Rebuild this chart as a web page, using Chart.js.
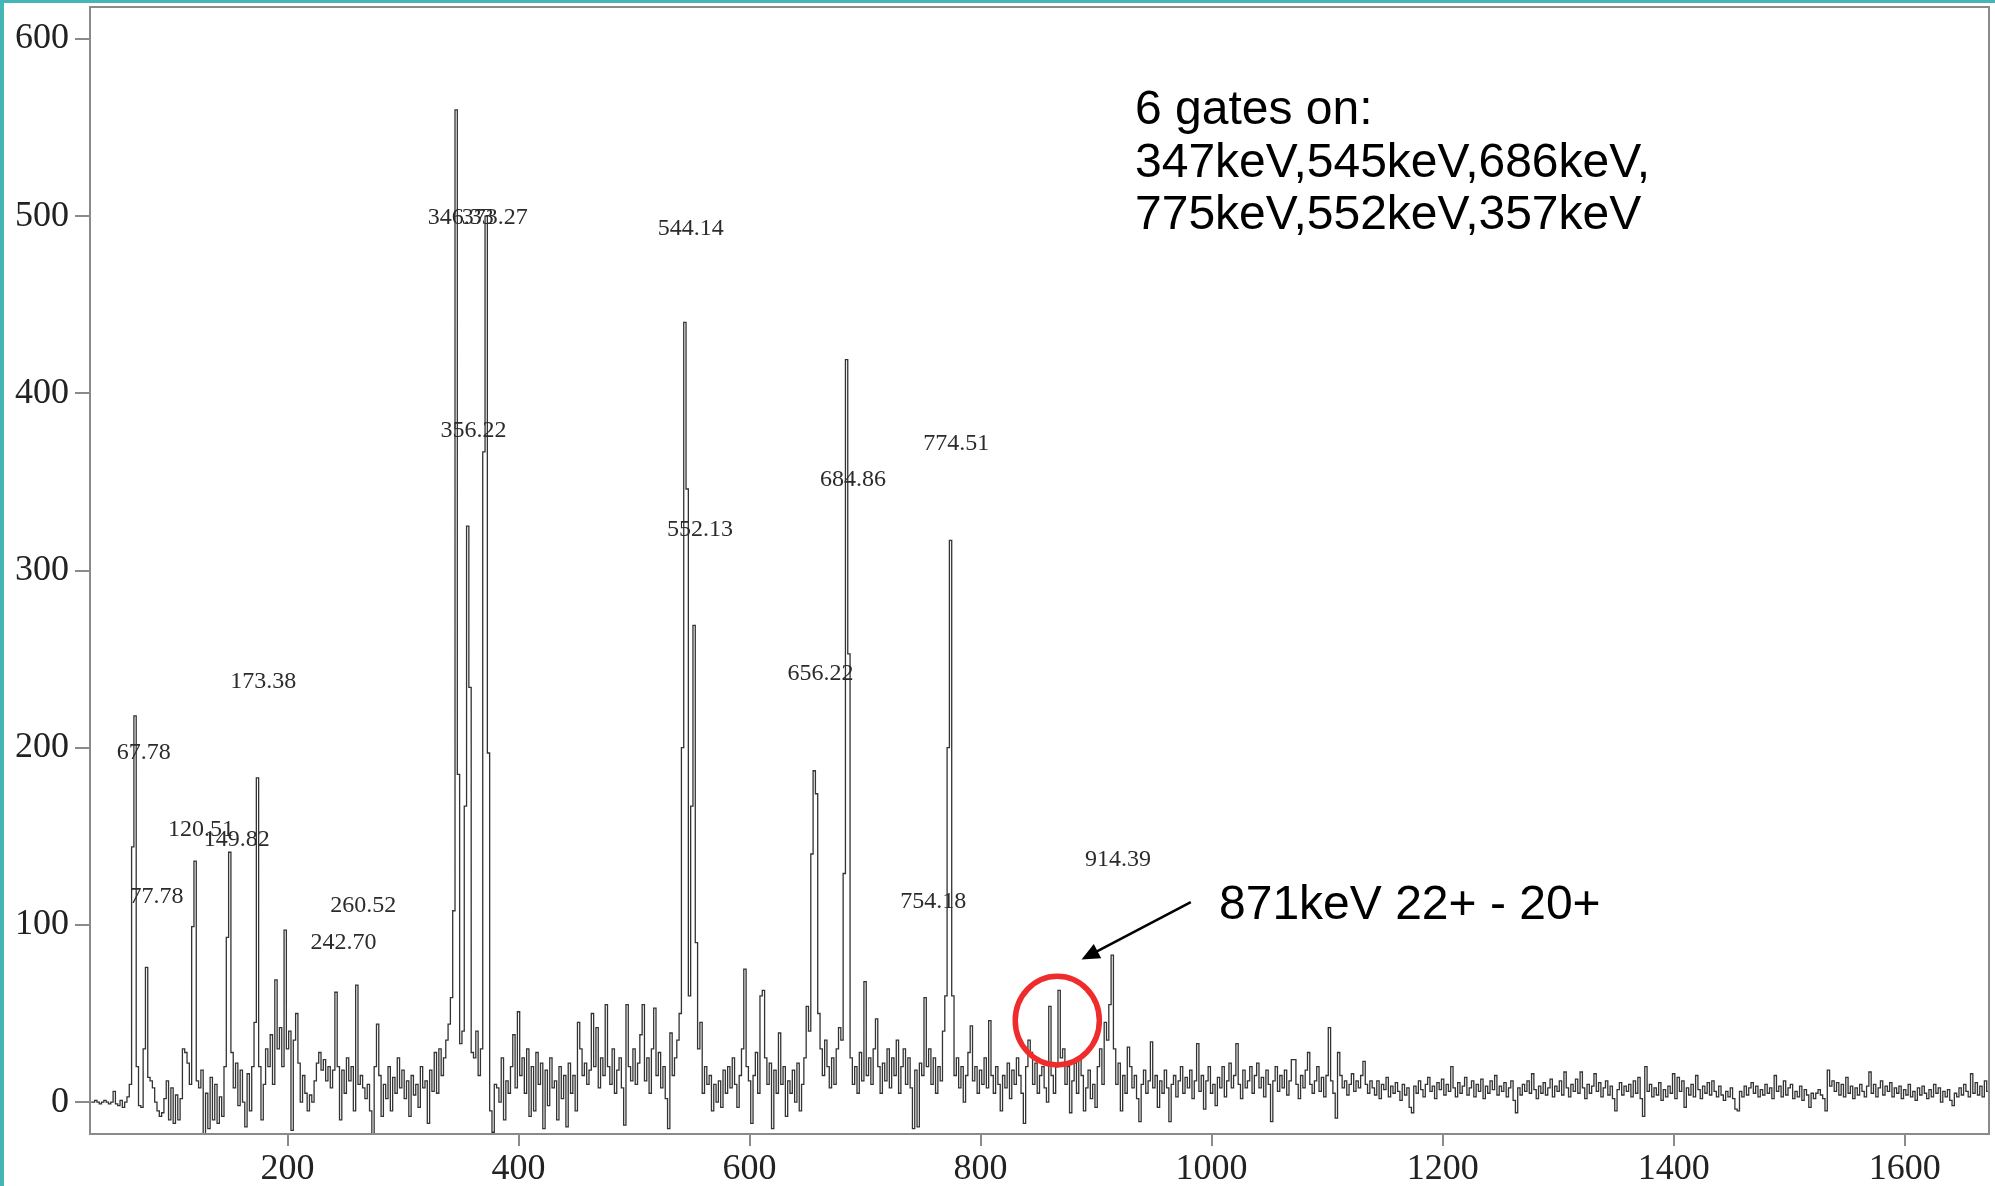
<!DOCTYPE html>
<html>
<head>
<meta charset="utf-8">
<script src="https://cdn.jsdelivr.net/npm/chart.js@4/dist/chart.umd.min.js"></script>
<style>
  body { margin: 0; background: #fff; }
  #wrap { position: relative; width: 1995px; height: 1186px; }
  .teal { position: absolute; background: #44b6b6; }
  #tealLeft { left: 0; top: 0; width: 4px; height: 1186px; }
  #tealTop { left: 0; top: 0; width: 1995px; height: 3px; }
</style>
</head>
<body>
<div id="wrap">
  <canvas id="spectrum"></canvas>
  <div class="teal" id="tealLeft"></div>
  <div class="teal" id="tealTop"></div>
</div>
<script>
// energy calibration: channel i -> energyStart + i * energyStep (keV)
const energyStart = 30;
const energyStep = 2;

// counts, rows of 10 channels (20 keV per row)
const countsLow = [ // 30 - 348 keV
  0, 0, 1, 0, -1, 0, 1, 0, -1, 0,
  6, -1, -2, 1, -3, 0, 3, 10, 144, 218,
  20, -2, -3, 30, 76, 14, 12, 8, 0, -5,
  -8, -6, 2, 12, -10, 8, -12, 4, -10, 2,
  30, 28, 22, 10, 99, 136, 12, 8, 18, -18,
  5, -15, 14, -10, 10, -12, 3, -8, 20, 93,
  141, 28, 8, 22, -2, 18, 0, -14, 16, -5,
  20, 45, 183, 20, -10, 10, 30, 20, 38, 10,
  69, 30, 42, 20, 97, 30, 40, -16, 35, 50,
  22, 0, 15, 5, -5, 4, 0, 12, 22, 28,
  18, 24, 12, 20, 8, 18, 62, 20, -10, 18,
  5, 25, 12, 20, -5, 66, 10, 15, 8, 2,
  10, -5, -18, 20, 44, 15, -8, 10, 2, 20,
  -5, 14, 5, 25, 8, 18, 2, 12, -8, 15,
  4, 10, -3, 20, 8, 12, -12, 18, 6, 28,
  5, 30, 15, 25, 35, 44, 59, 108, 560, 185
];
const countsMid = [ // 350 - 788 keV
  33, 40, 167, 325, 234, 28, 25, 40, 15, 30,
  367, 500, 197, -5, -17, 10, 8, 0, 25, -10,
  12, 5, 20, 38, 8, 51, 15, 25, 5, 30,
  -8, 20, -5, 28, 10, 22, -15, 18, -2, 25,
  8, 12, -10, 20, 2, 15, -14, 22, 5, 15,
  -5, 45, 30, 15, 22, 10, 18, 50, 20, 42,
  8, 25, 15, 55, 20, 10, 30, 5, 18, 25,
  8, -13, 55, 20, 12, 30, 10, 22, 38, 55,
  12, 25, 5, 30, 53, 15, 28, 8, 20, 2,
  -15, 39, 15, 25, 35, 50, 200, 440, 346, 60,
  167, 269, 90, 30, 45, 5, 20, 10, 15, -5,
  10, 0, 12, -3, 18, 5, 20, 8, 25, 10,
  -3, 15, 30, 75, 20, 12, -12, 15, 28, 5,
  60, 63, 25, 10, 22, -15, 18, 5, 39, 10,
  20, -8, 12, 5, 18, 0, 22, -5, 10, 25,
  54, 40, 140, 187, 174, 50, 30, 15, 35, 20,
  8, 25, 10, 30, 42, 35, 129, 419, 253, 25,
  10, 20, 5, 28, 12, 68, 15, 25, 10, 30,
  47, 20, 5, 22, 12, 30, 8, 25, 15, 35,
  5, 20, 30, 10, 25, 8, -15, 18, -14, 22,
  15, 59, 20, 30, 10, 25, 5, 20, 12, 40,
  60, 200, 317, 60, 15, 25, 8, 20, 0, 15
];
const countsHigh = [ // 790 - 1148 keV
  28, 43, 12, 20, 5, 18, 10, 25, 8, 46,
  15, 5, 20, 10, -5, 15, 8, 22, 2, 18,
  10, 25, 15, 5, -12, 20, 35, 28, 10, 22,
  5, 15, 20, 8, 0, 54, 15, 5, 20, 63,
  25, 30, 10, 20, -6, 12, 22, 5, 25, 15,
  -5, 8, 18, 2, 10, -3, 20, 30, 10, 45,
  35, 55, 83, 30, 10, 22, -5, 15, 5, 31,
  20, 8, 15, 2, -11, 10, 18, 5, 12, 34,
  8, 15, -3, 12, 5, 18, 8, -11, 10, 15,
  3, 12, 20, 5, 14, 8, 18, 2, 12, 33,
  6, 15, -4, 12, 20, 5, 10, -2, 14, 8,
  20, 3, 12, 22, 8, 15, 33, 10, 2, 18,
  8, 12, 20, 5, 15, 22, 8, 14, 3, 18,
  10, -11, 12, 20, 6, 15, 8, 18, 4, 12,
  24, 24, 10, 2, 15, 8, 18, 28, 10, 5,
  12, 20, 6, 14, 3, 15, 42, 12, 5, -9,
  28, 15, 8, 12, 4, 10, 16, 6, 12, 8,
  15, 23, 10, 5, 12, 8, 4, 12, 2, 10
];
const countsTail = [ // 1150 - 1672 keV
  7, 14, 3, 9, 5, 11, 6, 1, 10, 4,
  8, -3, -6, 9, 5, 12, 7, 3, 10, 14,
  6, 9, 2, 11, 7, 13, 4, 10, 6, 20,
  8, 3, 11, 5, 9, 14, 4, 8, 12, 3,
  10, 6, 13, 2, 9, 5, 12, 7, 15, 4,
  9, 6, 11, 3, 8, 12, 1, -6, 8, 4,
  10, 6, 12, 5, 16, 7, 2, 9, 5, 11,
  4, 8, 13, 3, 9, 6, 12, 4, 17, 8,
  3, 10, 6, 13, 5, 17, 8, 2, 10, 5,
  9, 16, 6, 11, 3, 8, 12, 4, 9, 2,
  -5, 7, 11, 4, 9, 6, 10, 3, 12, 5,
  14, 2, -8, 20, 6, 10, 3, 8, 4, 11,
  1, 7, 3, 9, 5, 16, 2, 14, 6, 12,
  -3, 8, 4, 10, 3, 15, 7, 2, 9, 5,
  11, 4, 12, 6, 3, 9, 4, 1, 6, 3,
  8, 2, -4, -5, 6, 3, 9, 4, 8, 11,
  5, 9, 3, 7, 4, 10, 5, 8, 2, 15,
  6, 9, 3, 12, 4, 8, 10, 2, 6, 3,
  9, 1, 7, 4, -3, 5, 2, 5, 7, 4,
  2, -5, 18, 9, 12, 6, 11, 4, 10, 3,
  14, 5, 9, 2, 8, 4, 10, 6, 3, 9,
  17, 5, 10, 3, 8, 12, 4, 9, 6, 11,
  3, 8, 5, 9, 2, 7, 4, 10, 3, 6,
  1, 8, 4, 9, 5, 2, 7, 3, 10, 5,
  8, 0, 6, 3, 7, 1, -2, 5, 3, 8,
  4, 10, 6, 3, 16, 5, 11, 4, 9, 3,
  12, 6
];

// peak labels printed on the spectrum
const peakLabels = ['67.78', '77.78', '120.51', '149.82', '173.38', '242.70', '260.52',
  '346.33', '373.27', '356.22', '544.14', '552.13', '656.22', '684.86', '774.51', '754.18', '914.39'];
const peakLabelKeV = [75.5, 86.6, 125, 156, 179, 248.5, 265.5,
  350, 379.5, 361, 549, 557, 661.5, 689.6, 779, 759, 919];
const peakLabelCounts = [197, 116, 154, 148, 237, 90, 111,
  499, 499, 379, 493, 323, 242, 351, 371.5, 113, 137];

const gateLines = ['6 gates on:', '347keV,545keV,686keV,', '775keV,552keV,357keV'];
const noteText = '871keV 22+ - 20+';

const yTicks = [0, 100, 200, 300, 400, 500, 600];
const xTicks = [200, 400, 600, 800, 1000, 1200, 1400, 1600];

const counts = [...countsLow, ...countsMid, ...countsHigh, ...countsTail];
const points = counts.map((c, i) => ({ x: energyStart + i * energyStep, y: c }));

const annotate = {
  id: 'annotate',
  afterDatasetsDraw(chart) {
    const { ctx, chartArea: a } = chart;
    const sx = chart.scales.x;
    const sy = chart.scales.y;
    ctx.save();

    // frame round the plot
    ctx.strokeStyle = '#8a8a8a';
    ctx.lineWidth = 2;
    ctx.strokeRect(a.left, a.top, a.right - a.left, a.bottom - a.top);

    // peak energies
    ctx.font = '24px "Liberation Serif"';
    ctx.fillStyle = '#2b2b2b';
    ctx.textAlign = 'center';
    ctx.textBaseline = 'middle';
    peakLabels.forEach((t, i) => {
      ctx.fillText(t, sx.getPixelForValue(peakLabelKeV[i]), sy.getPixelForValue(peakLabelCounts[i]));
    });

    // gate list
    ctx.font = '48px "Liberation Sans"';
    ctx.fillStyle = '#000';
    ctx.textAlign = 'left';
    [559.7, 529.6, 500.1].forEach((c, i) => {
      ctx.fillText(gateLines[i], sx.getPixelForValue(933.7), sy.getPixelForValue(c));
    });
    ctx.fillText(noteText, sx.getPixelForValue(1006.4), sy.getPixelForValue(110.6));

    // arrow to the 871 keV line
    const x0 = sx.getPixelForValue(982), y0 = sy.getPixelForValue(112.8);
    const x1 = sx.getPixelForValue(887.4), y1 = sy.getPixelForValue(80.5);
    const ang = Math.atan2(y1 - y0, x1 - x0);
    ctx.strokeStyle = '#000';
    ctx.lineWidth = 2.5;
    ctx.beginPath();
    ctx.moveTo(x0, y0);
    ctx.lineTo(x1 - 12 * Math.cos(ang), y1 - 12 * Math.sin(ang));
    ctx.stroke();
    ctx.beginPath();
    ctx.moveTo(x1, y1);
    ctx.lineTo(x1 - 18 * Math.cos(ang) + 8 * Math.sin(ang), y1 - 18 * Math.sin(ang) - 8 * Math.cos(ang));
    ctx.lineTo(x1 - 18 * Math.cos(ang) - 8 * Math.sin(ang), y1 - 18 * Math.sin(ang) + 8 * Math.cos(ang));
    ctx.closePath();
    ctx.fillStyle = '#000';
    ctx.fill();

    // red circle
    const cx = sx.getPixelForValue(866.4), cy = sy.getPixelForValue(46);
    const rx = sx.getPixelForValue(866.4 + 36.4) - cx;
    const ry = cy - sy.getPixelForValue(46 + 25);
    ctx.strokeStyle = '#ef2b2b';
    ctx.lineWidth = 5.5;
    ctx.beginPath();
    ctx.ellipse(cx, cy, rx, ry, 0, 0, Math.PI * 2);
    ctx.stroke();

    ctx.restore();
  }
};

new Chart(document.getElementById('spectrum'), {
  type: 'line',
  data: {
    datasets: [{
      data: points,
      borderColor: '#333333',
      borderWidth: 1.3,
      pointRadius: 0,
      stepped: 'middle',
      fill: false
    }]
  },
  options: {
    responsive: true,
    maintainAspectRatio: false,
    devicePixelRatio: 1,
    animation: false,
    layout: { padding: { top: 7, right: 6, left: 0, bottom: 0 } },
    plugins: { legend: { display: false }, tooltip: { enabled: false } },
    scales: {
      x: {
        type: 'linear',
        min: 29,
        max: 1673,
        afterBuildTicks: s => { s.ticks = xTicks.map(v => ({ value: v })); },
        afterFit: s => { s.height = 52; s.paddingLeft = 0; s.paddingRight = 0; },
        ticks: {
          color: '#222',
          padding: 2,
          callback: v => String(v),
          font: { family: 'Liberation Serif', size: 36 }
        },
        grid: { drawOnChartArea: false, drawTicks: true, tickLength: 12, color: '#8a8a8a', lineWidth: 2 },
        border: { color: '#8a8a8a', width: 2 }
      },
      y: {
        min: -18,
        max: 618,
        afterBuildTicks: s => { s.ticks = yTicks.map(v => ({ value: v })); },
        afterFit: s => { s.width = 90; s.paddingTop = 0; s.paddingBottom = 0; },
        ticks: {
          color: '#222',
          padding: 6,
          callback: v => String(v),
          font: { family: 'Liberation Serif', size: 36 }
        },
        grid: { drawOnChartArea: false, drawTicks: true, tickLength: 15, color: '#8a8a8a', lineWidth: 2 },
        border: { color: '#8a8a8a', width: 2 }
      }
    }
  },
  plugins: [annotate]
});
</script>
</body>
</html>
